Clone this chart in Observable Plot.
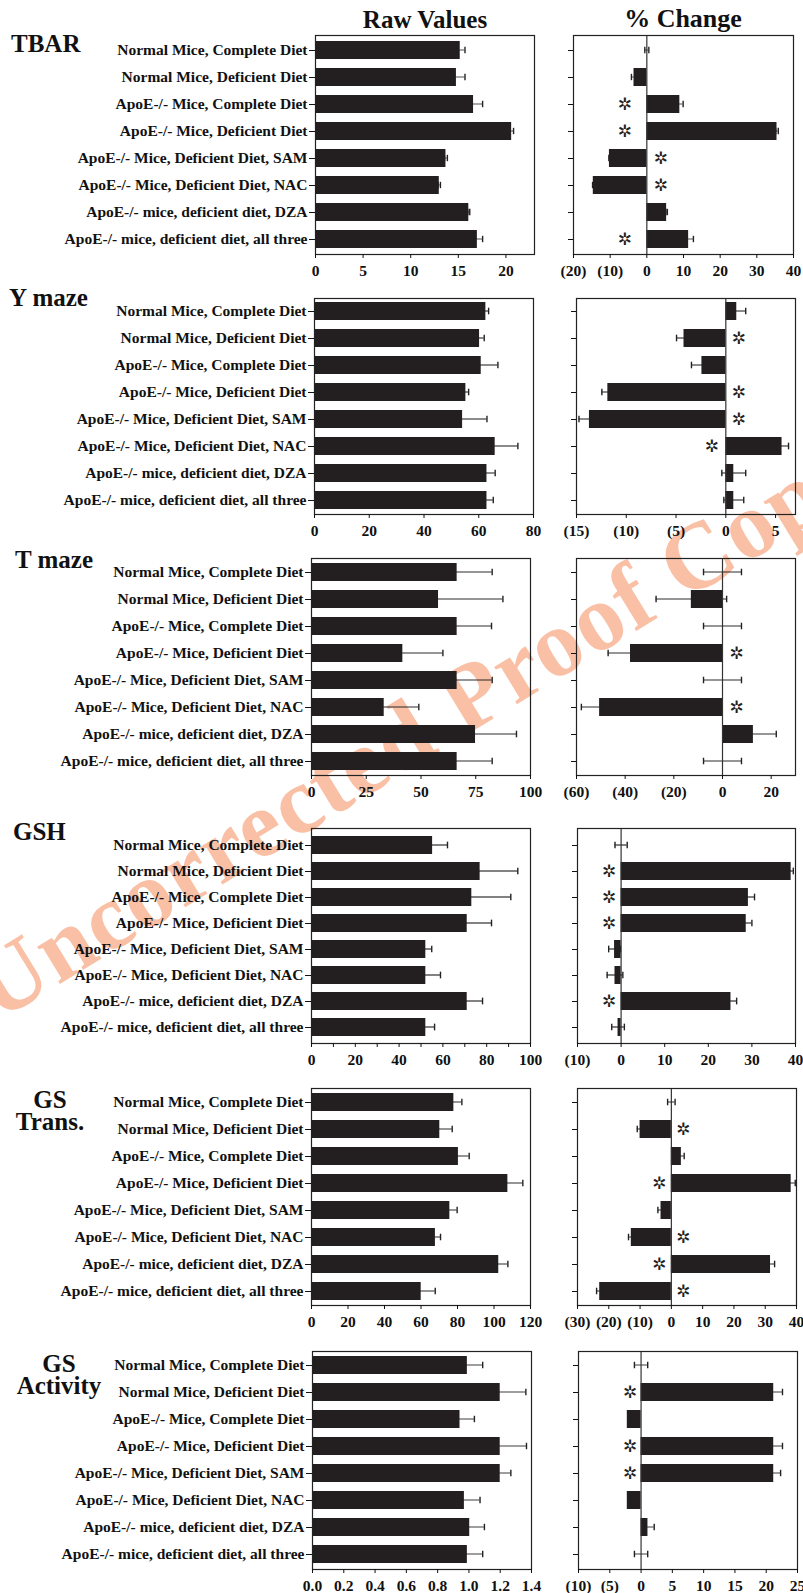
<!DOCTYPE html>
<html>
<head>
<meta charset="utf-8">
<script src="https://cdn.jsdelivr.net/npm/d3@7"></script>
<script src="https://cdn.jsdelivr.net/npm/@observablehq/plot@0.6"></script>
<style>
  html, body { margin: 0; padding: 0; background: #fff; }
  #page { position: relative; width: 803px; height: 1593px; overflow: hidden; background: #fff; }
  .abs { position: absolute; }
  .lbl { position: absolute; font-family: "Liberation Serif", "Times New Roman", serif; font-weight: bold; color: #111; white-space: pre; }
</style>
</head>
<body>
<div id="page"></div>
<script>
// ---------------- DATA ----------------
const categories = [
  "Normal Mice, Complete Diet",
  "Normal Mice, Deficient Diet",
  "ApoE-/- Mice, Complete Diet",
  "ApoE-/- Mice, Deficient Diet",
  "ApoE-/- Mice, Deficient Diet, SAM",
  "ApoE-/- Mice, Deficient Diet, NAC",
  "ApoE-/- mice, deficient diet, DZA",
  "ApoE-/- mice, deficient diet, all three"
];
const panelNames = ["TBAR", "Y maze", "T maze", "GSH", "GS\nTrans.", "GS\nActivity"];
const columnTitles = ["Raw Values", "% Change"];

const tbarRaw = [15.2, 14.8, 16.6, 20.6, 13.7, 13.0, 16.1, 17.0];
const tbarRawErr = [0.5, 0.9, 0.95, 0.2, 0.15, 0.12, 0.1, 0.55];
const tbarPct = [0, -3.5, 9.0, 35.5, -10.2, -14.6, 5.4, 11.4];
const tbarPctErr = [0.55, 0.7, 0.9, 0.35, 0.15, 0.2, 0.2, 1.3];
const tbarSig = [0, 0, 1, 1, 1, 1, 0, 1];

const ymazeRaw = [62.6, 60.3, 60.9, 55.3, 54.1, 66.0, 63.0, 63.0];
const ymazeRawErr = [1.0, 1.7, 6.1, 1.0, 8.9, 8.3, 3.0, 2.3];
const ymazePct = [1.1, -4.2, -2.4, -11.85, -13.7, 5.65, 0.8, 0.8];
const ymazePctErr = [0.9, 0.75, 1.05, 0.6, 1.05, 0.65, 1.2, 1.0];
const ymazeSig = [0, 1, 0, 1, 1, 1, 0, 0];

const tmazeRaw = [66.5, 58.0, 66.5, 41.7, 66.5, 33.2, 74.9, 66.5];
const tmazeRawErr = [16.0, 29.4, 15.7, 18.3, 16.0, 15.8, 18.7, 16.0];
const tmazePct = [0, -12.8, 0, -37.8, 0, -50.5, 12.7, 0];
const tmazePctErr = [7.8, 14.5, 7.8, 9.2, 7.8, 7.5, 9.4, 7.8];
const tmazeSig = [0, 0, 0, 1, 0, 1, 0, 0];

const gshRaw = [55.3, 77.0, 73.2, 71.1, 52.2, 52.2, 71.1, 52.2];
const gshRawErr = [6.8, 17.2, 17.8, 11.1, 2.7, 6.7, 7.0, 4.0];
const gshPct = [0, 39.0, 29.2, 28.7, -1.5, -1.4, 25.2, -0.7];
const gshPctErr = [1.4, 0.5, 1.4, 1.3, 1.35, 1.8, 1.3, 1.45];
const gshSig = [0, 1, 1, 1, 0, 0, 1, 0];

const gstRaw = [78.0, 70.3, 80.5, 107.6, 75.8, 67.9, 102.6, 60.1];
const gstRawErr = [4.4, 6.8, 5.9, 8.2, 4.0, 2.8, 5.0, 7.7];
const gstPct = [0, -10.0, 3.2, 38.3, -3.3, -12.8, 31.7, -22.9];
const gstPctErr = [1.2, 0.9, 0.9, 1.3, 1.0, 0.9, 1.3, 1.0];
const gstSig = [0, 1, 0, 1, 0, 1, 1, 1];

const gsaRaw = [0.99, 1.20, 0.943, 1.20, 1.20, 0.971, 1.005, 0.99];
const gsaRawErr = [0.098, 0.164, 0.092, 0.168, 0.068, 0.10, 0.094, 0.098];
const gsaPct = [0, 21.2, -2.2, 21.2, 21.2, -2.2, 1.1, 0];
const gsaPctErr = [1.06, 1.4, 0, 1.4, 1.1, 0, 1.0, 1.06];
const gsaSig = [0, 1, 0, 1, 1, 0, 0, 0];

const rawDomains = [[0, 23], [0, 80], [0, 100], [0, 100], [0, 120], [0, 1.4]];
const pctDomains = [[-20, 40], [-15, 7], [-60, 30], [-10, 40], [-30, 40], [-10, 25]];
const rawTicks = [
  [0, 5, 10, 15, 20],
  [0, 20, 40, 60, 80],
  [0, 25, 50, 75, 100],
  [0, 10, 20, 30, 40, 50, 60, 70, 80, 90, 100],
  [0, 20, 40, 60, 80, 100, 120],
  [0, 0.2, 0.4, 0.6, 0.8, 1.0, 1.2, 1.4]
];
const rawTickLabelEvery = [5, 20, 25, 20, 20, 0.2];
const pctTicks = [
  [-20, -10, 0, 10, 20, 30, 40],
  [-15, -10, -5, 0, 5],
  [-60, -40, -20, 0, 20],
  [-10, 0, 10, 20, 30, 40],
  [-30, -20, -10, 0, 10, 20, 30, 40],
  [-10, -5, 0, 5, 10, 15, 20, 25]
];

const series = [
  [tbarRaw, tbarRawErr, tbarPct, tbarPctErr, tbarSig],
  [ymazeRaw, ymazeRawErr, ymazePct, ymazePctErr, ymazeSig],
  [tmazeRaw, tmazeRawErr, tmazePct, tmazePctErr, tmazeSig],
  [gshRaw, gshRawErr, gshPct, gshPctErr, gshSig],
  [gstRaw, gstRawErr, gstPct, gstPctErr, gstSig],
  [gsaRaw, gsaRawErr, gsaPct, gsaPctErr, gsaSig]
];

// ---------------- LAYOUT (positions / styles) ----------------
const layout = [
  {top: 35,   bottom: 254,  rawL: 315, rawR: 534, pctL: 573, pctR: 793, starL: -22, starR: 14, name: {x: 11, y: 52}},
  {top: 298,  bottom: 514,  rawL: 314, rawR: 533, pctL: 576, pctR: 795, starL: -14, starR: 13, name: {x: 9, y: 306}},
  {top: 558,  bottom: 775,  rawL: 311, rawR: 530, pctL: 576, pctR: 795, starL: -14, starR: 14, name: {x: 15, y: 568}},
  {top: 828,  bottom: 1043, rawL: 311, rawR: 530, pctL: 577, pctR: 795, starL: -12, starR: 12, name: {x: 13, y: 840}},
  {top: 1088, bottom: 1305, rawL: 311, rawR: 530, pctL: 577, pctR: 796, starL: -12, starR: 12, name: {x: 50, y: 1108, center: true, lh: 22}},
  {top: 1351, bottom: 1569, rawL: 312, rawR: 531, pctL: 578, pctR: 797, starL: -11, starR: 12, name: {x: 59, y: 1372, center: true, lh: 22}}
];

const FONT = '"Liberation Serif", "Times New Roman", serif';
const INK = "#231f20";
const STAR = "\u2732";
const PADI = 0.32, PADO = 0.16;
const page = document.getElementById("page");

// watermark
const NS = "http://www.w3.org/2000/svg";
const wm = document.createElementNS(NS, "svg");
wm.setAttribute("width", 803); wm.setAttribute("height", 1593);
wm.setAttribute("class", "abs"); wm.style.left = "0px"; wm.style.top = "0px";
const wt = document.createElementNS(NS, "text");
wt.setAttribute("transform", "translate(-2,1022) rotate(-31.5)");
wt.setAttribute("font-family", FONT);
wt.setAttribute("font-weight", "bold");
wt.setAttribute("font-size", "95");
wt.setAttribute("letter-spacing", "1.5");
wt.setAttribute("fill", "#f9c0a6");
wt.textContent = "Uncorrected Proof Copy";
wm.appendChild(wt);
page.appendChild(wm);

// HTML labels; baseline = y of first line
function addLabel(text, x, baseline, size, center, lh) {
  const d = document.createElement("div");
  d.className = "lbl";
  d.textContent = text;
  d.style.fontSize = size + "px";
  const lineH = lh || size;
  d.style.lineHeight = lineH + "px";
  d.style.top = (baseline - ((lineH - 1.107 * size) / 2 + 0.891 * size)) + "px";
  d.style.left = x + "px";
  if (center) { d.style.transform = "translateX(-50%)"; d.style.textAlign = "center"; }
  page.appendChild(d);
}
addLabel(columnTitles[0], 425, 28, 25, true);
addLabel(columnTitles[1], 683, 28, 26, true);

const pctFormat = d => d < 0 ? `(${-d})` : `${d}`;

function makePlot(rows, opts) {
  const {L, R, top, bottom, svgLeft, svgWidth, domain, ticks, tickFormat, showLabels, zero, starL, starR} = opts;
  const H = bottom - top;
  const step = H / (categories.length - PADI + 2 * PADO);
  const bw = step * (1 - PADI);
  const lineIns = (bw - 1.4) / 2;
  const capIns = (bw - 7) / 2;
  const withErr = rows.filter(d => d.e > 0);
  const marks = [];
  marks.push(Plot.barX(withErr, {x1: d => d.v - d.e, x2: d => d.v + d.e, y: "c", fill: "#222", insetTop: lineIns, insetBottom: lineIns}));
  marks.push(Plot.tickX(withErr, {x: d => d.v + d.e, y: "c", stroke: "#222", strokeWidth: 1.4, insetTop: capIns, insetBottom: capIns}));
  marks.push(Plot.tickX(withErr, {x: d => d.v - d.e, y: "c", stroke: "#222", strokeWidth: 1.4, insetTop: capIns, insetBottom: capIns}));
  marks.push(Plot.barX(rows, {x: "v", y: "c", fill: INK}));
  if (zero) {
    marks.push(Plot.ruleX([0], {stroke: "#333", strokeWidth: 1.2}));
    marks.push(Plot.text(rows.filter(d => d.s && d.v >= 0), {x: () => 0, y: "c", text: () => STAR, dx: starL, fontFamily: "DejaVu Sans", fontWeight: "normal", fontSize: 17, fill: "#222"}));
    marks.push(Plot.text(rows.filter(d => d.s && d.v < 0), {x: () => 0, y: "c", text: () => STAR, dx: starR, fontFamily: "DejaVu Sans", fontWeight: "normal", fontSize: 17, fill: "#222"}));
  }
  marks.push(Plot.frame({stroke: "#222", strokeWidth: 1.2}));
  marks.push(Plot.axisY({tickSize: showLabels ? 6 : 5, tickPadding: 2, fontSize: 15.5, label: null, tickFormat: showLabels ? d => d : () => ""}));
  marks.push(Plot.axisX({ticks, tickFormat, tickSize: 4, tickPadding: 6, fontSize: 15.5, label: null}));
  const mt = 10, mb = 32;
  const svg = Plot.plot({
    width: svgWidth,
    height: H + mt + mb,
    marginTop: mt,
    marginBottom: mb,
    marginLeft: L - svgLeft,
    marginRight: svgLeft + svgWidth - R,
    x: {domain},
    y: {domain: categories, paddingInner: PADI, paddingOuter: PADO},
    style: {fontFamily: FONT, fontSize: "15px", fontWeight: "bold", background: "transparent", overflow: "visible", color: "#111"},
    marks
  });
  const wrap = document.createElement("div");
  wrap.className = "abs";
  wrap.style.left = svgLeft + "px";
  wrap.style.top = (top - mt) + "px";
  wrap.appendChild(svg);
  page.appendChild(wrap);
}

series.forEach((s, i) => {
  const [raw, rawErr, pct, pctErr, sig] = s;
  const lay = layout[i];
  const rawRows = categories.map((c, j) => ({c, v: raw[j], e: rawErr[j]}));
  const pctRows = categories.map((c, j) => ({c, v: pct[j], e: pctErr[j], s: sig[j]}));
  const every = rawTickLabelEvery[i];
  const rawFmt = d => {
    const k = d / every;
    if (Math.abs(k - Math.round(k)) > 1e-6) return "";
    return i === 5 ? d3.format(".1f")(d) : `${d}`;
  };
  makePlot(rawRows, {L: lay.rawL, R: lay.rawR, top: lay.top, bottom: lay.bottom, svgLeft: 0, svgWidth: 560,
    domain: rawDomains[i], ticks: rawTicks[i], tickFormat: rawFmt, showLabels: true, zero: false});
  makePlot(pctRows, {L: lay.pctL, R: lay.pctR, top: lay.top, bottom: lay.bottom, svgLeft: 545, svgWidth: 258,
    domain: pctDomains[i], ticks: pctTicks[i], tickFormat: pctFormat, showLabels: false, zero: true,
    starL: lay.starL, starR: lay.starR});
  addLabel(panelNames[i], lay.name.x, lay.name.y, 25, !!lay.name.center, lay.name.lh);
});
</script>
</body>
</html>
